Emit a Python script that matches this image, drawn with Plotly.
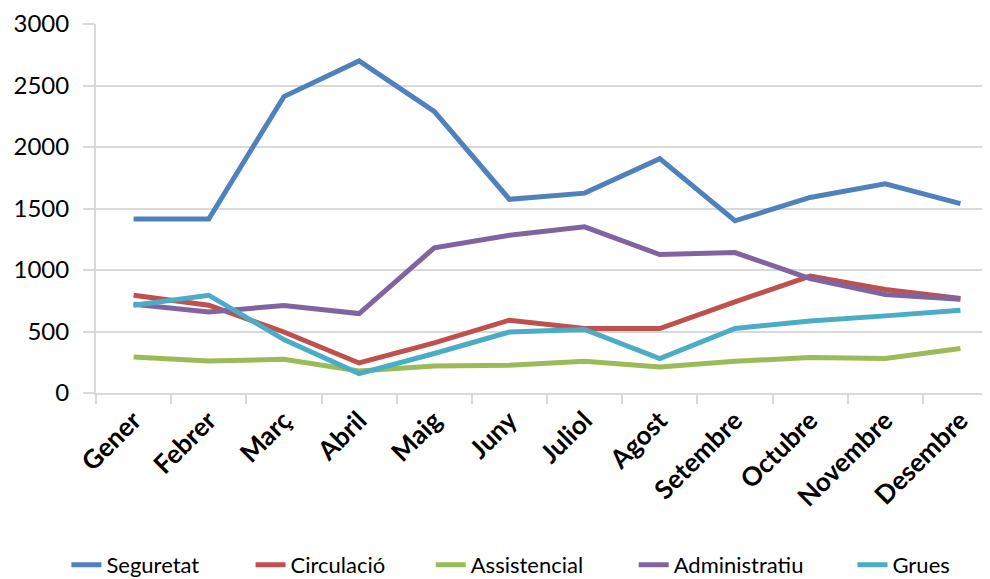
import plotly.graph_objects as go

months = ["Gener", "Febrer", "Març", "Abril", "Maig", "Juny", "Juliol", "Agost",
          "Setembre", "Octubre", "Novembre", "Desembre"]
seguretat = [1415, 1415, 2410, 2700, 2290, 1575, 1625, 1905, 1400, 1590, 1700, 1540]
circulacio = [795, 714, 496, 244, 407, 592, 524, 524, 741, 950, 841, 768]
assistencial = [293, 260, 274, 179, 220, 225, 258, 212, 258, 288, 280, 361]
administratiu = [722, 659, 711, 646, 1180, 1283, 1351, 1126, 1142, 931, 801, 762]
grues = [714, 795, 434, 158, 321, 496, 516, 280, 524, 586, 627, 673]

series = [
    ("Seguretat", seguretat, "#4F81BD"),
    ("Circulació", circulacio, "#C0504D"),
    ("Assistencial", assistencial, "#9BBB59"),
    ("Administratiu", administratiu, "#8064A2"),
    ("Grues", grues, "#4BACC6"),
]
legend_x = [0.059, 0.245, 0.427, 0.632, 0.853]

fig = go.Figure()
legend_layout = {}
for i, (name, vals, col) in enumerate(series):
    lname = "legend" if i == 0 else f"legend{i + 1}"
    fig.add_trace(go.Scatter(x=months, y=vals, name=name, mode="lines",
                             line=dict(color=col, width=5), legend=lname))
    legend_layout[lname] = dict(orientation="h", xref="container", x=legend_x[i],
                                xanchor="left", yref="container", y=0.038,
                                yanchor="middle", font=dict(size=22),
                                bgcolor="rgba(0,0,0,0)")

fig.update_layout(
    width=990, height=579,
    margin=dict(l=88, r=0, t=16, b=194, autoexpand=False),
    paper_bgcolor="white", plot_bgcolor="white",
    font=dict(family="Lato, Carlito, sans-serif", color="#000000"),
    showlegend=True,
    **legend_layout,
)
fig.update_xaxes(
    type="category", range=[-0.5, 11.5], automargin=False,
    showline=True, linecolor="#D9D9D9", linewidth=2,
    showgrid=False, ticks="outside", tickson="boundaries", ticklen=9,
    tickcolor="#D9D9D9", tickwidth=2,
    tickangle=-45, tickfont=dict(size=26, family="Lato, sans-serif", weight="bold"),
)
fig.update_yaxes(
    range=[0, 3000], dtick=500, automargin=False,
    showline=True, linecolor="#D9D9D9", linewidth=2,
    showgrid=True, gridcolor="#D9D9D9", gridwidth=2,
    ticks="outside", ticklen=11, tickcolor="#D9D9D9", tickwidth=2,
    tickfont=dict(size=24), ticklabelstandoff=9, zeroline=False,
)
fig.write_html("out.html")
